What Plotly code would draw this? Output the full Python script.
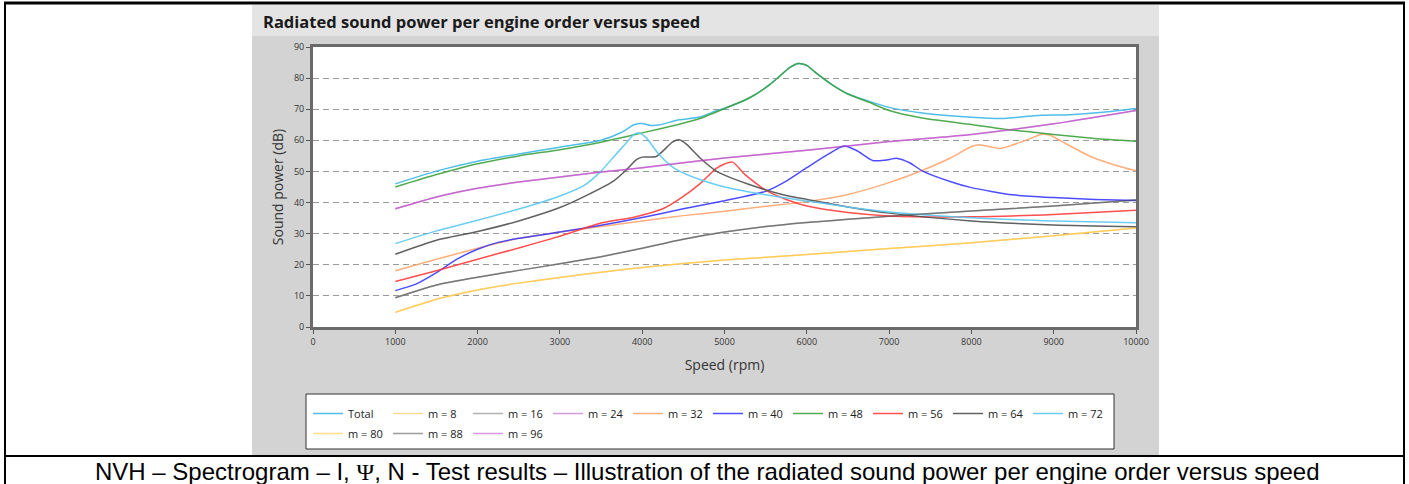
import plotly.graph_objects as go

# ---- data (speed in rpm, sound power in dB) ----
total_rpm = [1000, 1500, 2000, 2500, 3000, 3500, 3750, 3900, 4000, 4100, 4200, 4450, 4700, 4900,
             5000, 5300, 5550, 5800, 5900, 6000, 6100, 6300, 6500, 6750, 7000, 7400, 8000, 8400,
             8800, 9200, 9600, 10000]
total_db = [46.0, 50.1, 53.3, 55.6, 57.8, 60.0, 62.6, 65.0, 65.4, 64.8, 64.9, 66.6, 67.5, 69.5,
            70.3, 73.6, 77.9, 83.5, 84.7, 84.1, 81.9, 78.0, 74.9, 72.6, 70.6, 68.8, 67.4, 67.0,
            68.0, 68.2, 69.0, 70.2]

m8_rpm = [1000, 1500, 2000, 2500, 3000, 3500, 4000, 4500, 5000, 6000, 7000, 8000, 9000, 10000]
m8_db = [4.7, 8.9, 11.9, 14.1, 15.9, 17.6, 19.1, 20.4, 21.5, 23.3, 25.2, 27.1, 29.3, 31.8]

m16_rpm = [1000, 1500, 2000, 2500, 3000, 3500, 4000, 4500, 5000, 5500, 6000, 6500, 7000, 8000,
           9000, 10000]
m16_db = [9.4, 13.5, 16.0, 18.2, 20.3, 22.6, 25.3, 28.2, 30.5, 32.3, 33.6, 34.6, 35.6, 37.3,
          38.9, 40.8]

m24_rpm = [1000, 1500, 2000, 2500, 3000, 3500, 4000, 4500, 5000, 6000, 7000, 8000, 9000, 10000]
m24_db = [38.0, 41.8, 44.6, 46.6, 48.2, 49.8, 51.2, 52.8, 54.3, 56.8, 59.6, 61.9, 65.3, 69.6]

m32_rpm = [1000, 1500, 2000, 2500, 3000, 3500, 4000, 4500, 5000, 5500, 6000, 6500, 7000, 7400,
           7750, 8000, 8100, 8350, 8650, 8850, 8950, 9100, 9450, 9750, 10000]
m32_db = [18.1, 21.8, 25.3, 28.5, 30.5, 32.3, 34.1, 35.8, 37.2, 38.8, 40.3, 42.6, 46.4, 50.3,
          54.4, 58.0, 58.6, 57.4, 59.9, 61.9, 61.7, 59.6, 54.8, 52.0, 50.2]

m40_rpm = [1000, 1250, 1500, 1750, 2000, 2250, 2500, 3000, 3500, 4000, 4500, 5000, 5500, 5750,
           6000, 6250, 6450, 6600, 6800, 6950, 7100, 7250, 7400, 7750, 8000, 8500, 9000, 9500,
           10000]
m40_db = [11.7, 13.8, 17.5, 21.8, 25.0, 27.2, 28.5, 30.5, 32.7, 35.2, 38.0, 40.6, 43.6, 46.9,
          51.2, 55.4, 58.2, 56.8, 53.5, 53.6, 54.2, 52.8, 50.2, 46.7, 44.8, 42.5, 41.6, 41.0,
          40.7]

m48_rpm = [1000, 1500, 2000, 2500, 3000, 3500, 4000, 4450, 4700, 5000, 5300, 5550, 5800, 5900,
           6000, 6100, 6300, 6500, 6750, 7000, 7400, 8000, 8400, 9000, 9500, 10000]
m48_db = [45.0, 49.0, 52.5, 55.0, 57.0, 59.4, 62.4, 65.2, 67.0, 70.2, 73.6, 77.9, 83.5, 84.7,
          84.1, 81.9, 78.0, 74.9, 72.3, 69.6, 67.2, 65.1, 63.6, 61.9, 60.6, 59.7]

m56_rpm = [1000, 1500, 2000, 2500, 3000, 3500, 3900, 4250, 4500, 4700, 4900, 5000, 5100, 5250,
           5500, 5750, 6000, 6500, 7000, 8000, 9000, 10000]
m56_db = [14.6, 18.1, 21.8, 25.4, 29.2, 33.4, 35.3, 38.0, 42.0, 46.0, 51.0, 52.4, 53.0, 49.0,
          44.0, 41.0, 38.9, 36.8, 35.7, 35.4, 36.2, 37.5]

m64_rpm = [1000, 1500, 2000, 2500, 3000, 3300, 3650, 3800, 3930, 4000, 4170, 4300, 4370, 4450,
           4540, 4700, 4900, 5000, 5300, 5700, 6000, 6500, 7000, 8000, 9000, 10000]
m64_db = [23.4, 27.9, 30.7, 34.1, 38.4, 42.0, 46.9, 50.3, 53.8, 54.6, 54.8, 57.8, 59.5, 60.2,
          58.7, 54.4, 50.1, 48.8, 45.8, 42.6, 41.0, 38.6, 36.6, 34.1, 32.8, 32.2]

m72_rpm = [1000, 1500, 2000, 2500, 3000, 3300, 3500, 3650, 3800, 3900, 3970, 4050, 4200, 4350,
           4450, 4700, 5000, 5300, 5700, 6000, 6500, 7000, 8000, 9000, 10000]
m72_db = [26.8, 30.9, 34.3, 37.9, 42.1, 45.6, 50.1, 54.6, 59.0, 61.9, 62.3, 60.8, 55.6, 51.8,
          50.1, 47.4, 45.0, 43.4, 41.6, 40.5, 38.6, 37.0, 35.1, 34.1, 33.5]

# m = 80, 88 and 96 lie on top of m = 8, 16 and 24 in the reference
m80_rpm, m80_db = m8_rpm, m8_db
m88_rpm, m88_db = m16_rpm, m16_db
m96_rpm, m96_db = m24_rpm, m24_db

series_names = ["Total", "m = 8", "m = 16", "m = 24", "m = 32", "m = 40", "m = 48",
                "m = 56", "m = 64", "m = 72", "m = 80", "m = 88", "m = 96"]
series_rpm = [total_rpm, m8_rpm, m16_rpm, m24_rpm, m32_rpm, m40_rpm, m48_rpm,
              m56_rpm, m64_rpm, m72_rpm, m80_rpm, m88_rpm, m96_rpm]
series_db = [total_db, m8_db, m16_db, m24_db, m32_db, m40_db, m48_db,
             m56_db, m64_db, m72_db, m80_db, m88_db, m96_db]

x_ticks = list(range(0, 10001, 1000))
y_ticks = list(range(0, 91, 10))

# ---- styling ----
COLORS = ["#3cb8e8", "#ffd88a", "#a8a8a8", "#cc90d8", "#ffa66e", "#3a3aff", "#3ea33e",
          "#ff3c3c", "#505050", "#5cc8f0", "#ffc22e", "#4a4a4a", "#c040c8"]
OPACITY = [0.9] * 10 + [0.55] * 3

W, H = 1409, 484
PLOT_L, PLOT_R, PLOT_T, PLOT_B = 313, 1136, 47, 327
AXIS_FONT = "Open Sans"


def px_x(p):
    return (p - PLOT_L) / (PLOT_R - PLOT_L)


def px_y(p):
    return (PLOT_B - p) / (PLOT_B - PLOT_T)


def rect(x0, y0, x1, y1, fill, line_color=None, line_width=0):
    return dict(type="rect", xref="paper", yref="paper", layer="below",
                x0=px_x(x0), x1=px_x(x1), y0=px_y(y1), y1=px_y(y0),
                fillcolor=fill, line=dict(color=line_color or fill, width=line_width))


def hline(y, x0, x1, width):
    return dict(type="line", xref="paper", yref="paper", layer="above",
                x0=px_x(x0), x1=px_x(x1), y0=px_y(y), y1=px_y(y),
                line=dict(color="black", width=width))


def vline(x, y0, y1, width):
    return dict(type="line", xref="paper", yref="paper", layer="above",
                x0=px_x(x), x1=px_x(x), y0=px_y(y0), y1=px_y(y1),
                line=dict(color="black", width=width))


fig = go.Figure()
for i, (name, rpm, db, color, op) in enumerate(
        zip(series_names, series_rpm, series_db, COLORS, OPACITY)):
    fig.add_trace(go.Scatter(
        x=rpm, y=db, name=name, mode="lines", opacity=op,
        legend="legend" if i < 10 else "legend2",
        line=dict(color=color, width=1.5, shape="spline", smoothing=0.6),
    ))

shapes = [
    rect(252, 5, 1159, 455, "#d3d3d3"),
    rect(252, 5, 1159, 36, "#e4e4e4"),
    rect(PLOT_L, PLOT_T, PLOT_R, PLOT_B, "white"),
    rect(306, 394, 1114, 449, "white", "#333333", 1),
    hline(3, 4, 1405, 3),
    hline(456, 4, 1405, 2),
    vline(5, 2, 484, 2),
    vline(1404, 2, 484, 2),
]

annotations = [
    dict(text="Radiated sound power per engine order versus speed", xref="paper", yref="paper",
         x=px_x(261), y=px_y(21), xanchor="left", yanchor="middle", showarrow=False,
         font=dict(family=AXIS_FONT, size=16.5, color="#1a1a1a", weight="bold")),
    dict(text="NVH – Spectrogram – I, <span style='font-family:Liberation Serif'>Ψ</span>, "
              "N - Test results – Illustration of the radiated sound power per engine order "
              "versus speed",
         xref="paper", yref="paper", x=px_x(707), y=px_y(471), xanchor="center",
         yanchor="middle", showarrow=False,
         font=dict(family="Liberation Sans", size=24, color="black")),
]

legend_style = dict(
    orientation="h", xanchor="left", yanchor="top",
    bgcolor="rgba(0,0,0,0)", borderwidth=0, entrywidth=35, entrywidthmode="pixels",
    font=dict(family=AXIS_FONT, size=11, color="#222222"), traceorder="normal",
)

fig.update_layout(
    width=W, height=H,
    margin=dict(l=PLOT_L, r=W - PLOT_R, t=PLOT_T, b=H - PLOT_B, pad=0),
    paper_bgcolor="white",
    plot_bgcolor="white",
    showlegend=True,
    legend=dict(x=px_x(308), y=px_y(399), **legend_style),
    legend2=dict(x=px_x(308), y=px_y(419), **legend_style),
    shapes=shapes,
    annotations=annotations,
    xaxis=dict(
        range=[0, 10000], tickvals=x_ticks, ticktext=[str(v) for v in x_ticks],
        showgrid=False, zeroline=False, showline=True, mirror=True,
        linecolor="#6a6a6a", linewidth=3, ticks="outside", ticklen=4, tickcolor="#555555",
        tickfont=dict(family=AXIS_FONT, size=9, color="#333333"),
        title=dict(text="Speed (rpm)", standoff=14,
                   font=dict(family=AXIS_FONT, size=14, color="#333333")),
    ),
    yaxis=dict(
        range=[0, 90], tickvals=y_ticks, ticktext=[str(v) for v in y_ticks],
        showgrid=True, gridcolor="#9a9a9a", griddash="6px,4px", gridwidth=1,
        zeroline=False, showline=True, mirror=True,
        linecolor="#6a6a6a", linewidth=3, ticks="outside", ticklen=4, tickcolor="#555555",
        tickfont=dict(family=AXIS_FONT, size=9, color="#333333"),
        title=dict(text="Sound power (dB)", standoff=8,
                   font=dict(family=AXIS_FONT, size=14, color="#333333")),
    ),
)

# the page's default body margin would shift the figure by 8 px
fig.write_html("out.html", config={"displayModeBar": False},
               post_script="document.body.style.margin='0';")
